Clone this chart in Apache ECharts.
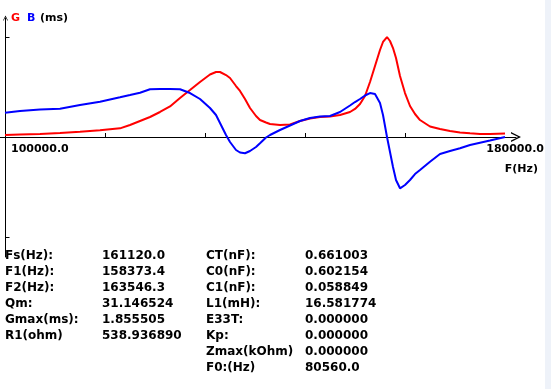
<!DOCTYPE html>
<html>
<head>
<meta charset="utf-8">
<script src="https://cdn.jsdelivr.net/npm/echarts@6/dist/echarts.min.js"></script>
<style>
html,body{margin:0;padding:0;background:#fff;}
#c{width:551px;height:389px;}
</style>
</head>
<body>
<div id="c"></div>
<script>
// Frequency (Hz)
var freq = [100000,102400,105600,108800,112000,115200,118400,120000,121600,123200,124800,126400,128000,129600,131200,132800,133760,134400,135360,136000,136960,137600,138400,139200,140160,140800,141760,142400,144000,145600,147200,148800,150400,152000,153600,155200,156000,156800,157600,158400,159200,160000,160480,161120,161600,162080,162560,163200,164000,164800,165600,166400,168000,169600,171200,172800,174400,176000,177600,180000];
// Conductance G (ms)
var gVals = [0.037,0.046,0.056,0.074,0.098,0.124,0.161,0.223,0.297,0.371,0.464,0.566,0.724,0.872,1.021,1.160,1.206,1.206,1.150,1.095,0.946,0.854,0.705,0.538,0.390,0.315,0.269,0.241,0.223,0.232,0.297,0.343,0.371,0.380,0.408,0.464,0.520,0.612,0.761,1.021,1.317,1.614,1.763,1.855505,1.781,1.651,1.466,1.132,0.816,0.575,0.427,0.315,0.195,0.148,0.111,0.083,0.069,0.056,0.056,0.065];
// Susceptance B (ms)
var bVals = [0.451,0.482,0.510,0.525,0.594,0.655,0.737,0.779,0.822,0.885,0.891,0.891,0.885,0.816,0.705,0.538,0.408,0.260,0.037,-0.093,-0.241,-0.288,-0.302,-0.260,-0.186,-0.117,-0.009,0.037,0.130,0.213,0.297,0.353,0.380,0.390,0.464,0.584,0.649,0.705,0.770,0.816,0.798,0.631,0.408,0.000,-0.278,-0.557,-0.798,-0.952,-0.891,-0.798,-0.687,-0.612,-0.458,-0.315,-0.260,-0.210,-0.148,-0.106,-0.065,0.000];
// Axis tick values
var xTicks = [116000,132000,148000,164000];
var yTicks = [-1.855505,1.855505];
var xStartLabel = '100000.0';
var xEndLabel = '180000.0';
var xUnit = 'F(Hz)';
// Parameter table
var col1Labels = ['Fs(Hz):','F1(Hz):','F2(Hz):','Qm:','Gmax(ms):','R1(ohm)'];
var col1Values = ['161120.0','158373.4','163546.3','31.146524','1.855505','538.936890'];
var col2Labels = ['CT(nF):','C0(nF):','C1(nF):','L1(mH):','E33T:','Kp:','Zmax(kOhm)','F0:(Hz)'];
var col2Values = ['0.661003','0.602154','0.058849','16.581774','0.000000','0.000000','0.000000','80560.0'];

var FONT = '"DejaVu Sans", sans-serif';
function pairs(xs, ys){ return xs.map(function(x,i){ return [x, ys[i]]; }); }

var graphics = [];
graphics.push({type:'rect', shape:{x:545,y:0,width:6,height:389}, style:{fill:'#eef2f9'}, silent:true});
graphics.push({type:'text', left:11, top:13, style:{text:'G', fill:'#ff0000', font:'bold 11px '+FONT}});
graphics.push({type:'text', left:27, top:13, style:{text:'B', fill:'#0000ff', font:'bold 11px '+FONT}});
graphics.push({type:'text', left:40, top:13, style:{text:'(ms)', fill:'#000', font:'bold 11px '+FONT}});
graphics.push({type:'text', left:11, top:144, style:{text:xStartLabel, fill:'#000', font:'bold 11px '+FONT}});
graphics.push({type:'text', right:7, top:144, style:{text:xEndLabel, fill:'#000', font:'bold 11px '+FONT}});
graphics.push({type:'text', right:13, top:164, style:{text:xUnit, fill:'#000', font:'bold 11px '+FONT}});
var rowY0 = 250, rowH = 16;
var TF = 'bold 12px ' + FONT;
col1Labels.forEach(function(t,i){
  graphics.push({type:'text', left:5, top:rowY0+i*rowH, style:{text:t, fill:'#000', font:TF}});
  graphics.push({type:'text', left:102, top:rowY0+i*rowH, style:{text:col1Values[i], fill:'#000', font:TF}});
});
col2Labels.forEach(function(t,i){
  graphics.push({type:'text', left:206, top:rowY0+i*rowH, style:{text:t, fill:'#000', font:TF}});
  graphics.push({type:'text', left:305, top:rowY0+i*rowH, style:{text:col2Values[i], fill:'#000', font:TF}});
});

var chevronUp = 'path://M0,10 L5,0 L10,10 L8.6,10 L5,2.8 L1.4,10 Z';

var chart = echarts.init(document.getElementById('c'), null, {renderer:'canvas'});
chart.setOption({
  animation:false,
  backgroundColor:'#ffffff',
  grid:{left:0, top:18, width:516, height:239, containLabel:false},
  xAxis:{
    type:'value', min:99200, max:181760,
    axisLine:{show:true, onZero:true, lineStyle:{color:'#000', width:1}, symbol:['none', chevronUp], symbolSize:[11,10], symbolOffset:[0,0]},
    axisTick:{show:true, inside:true, length:4, customValues:xTicks, lineStyle:{color:'#000'}},
    axisLabel:{show:false},
    splitLine:{show:false}
  },
  yAxis:{
    type:'value', min:-2.2266, max:2.2081, offset:-5.5,
    axisLine:{show:true, onZero:false, lineStyle:{color:'#000', width:1}, symbol:['none', chevronUp], symbolSize:[7,5]},
    axisTick:{show:true, inside:true, length:4, customValues:yTicks, lineStyle:{color:'#000'}},
    axisLabel:{show:false},
    splitLine:{show:false}
  },
  series:[
    {type:'line', data:pairs(freq,gVals), showSymbol:false, lineStyle:{color:'#ff0000', width:2}, itemStyle:{color:'#ff0000'}, z:2},
    {type:'line', data:pairs(freq,bVals), showSymbol:false, lineStyle:{color:'#0000ff', width:2}, itemStyle:{color:'#0000ff'}, z:3}
  ],
  graphic:graphics
});
</script>
</body>
</html>
